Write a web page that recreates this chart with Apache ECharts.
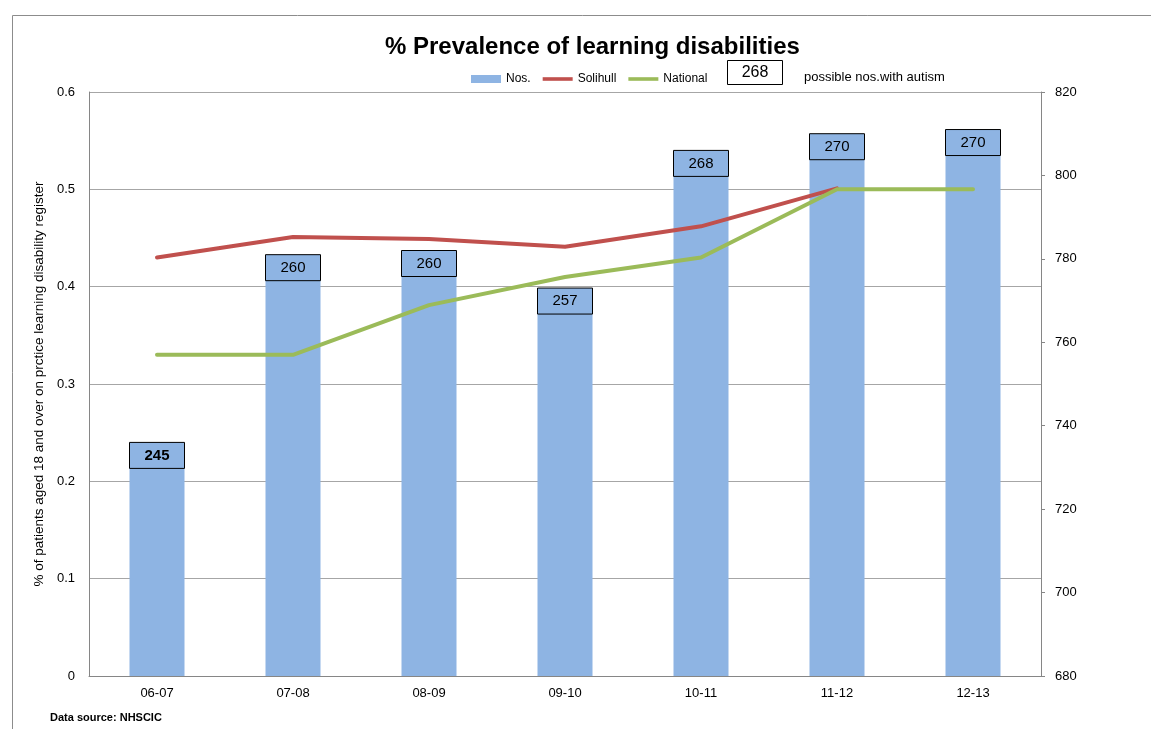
<!DOCTYPE html>
<html><head><meta charset="utf-8">
<script src="https://cdn.jsdelivr.net/npm/echarts@6/dist/echarts.min.js"></script>
<style>html,body{margin:0;padding:0;background:#fff}#c{width:1151px;height:729px}</style>
</head><body><div id="c"></div>
<script>
const categories = ['06-07','07-08','08-09','09-10','10-11','11-12','12-13'];
const nos = [736, 781, 782, 773, 806, 810, 811];
const autism = [245, 260, 260, 257, 268, 270, 270];
const solihull = [0.430, 0.451, 0.449, 0.441, 0.462, 0.501, null];
const national = [0.330, 0.330, 0.381, 0.410, 0.430, 0.500, 0.500];
const leftTicks = [0, 0.6, 0.1];
const rightTicks = [680, 820, 20];

const FONT = 'Liberation Sans, Arial, sans-serif';
const LINE_ICON = 'path://M0,0 L0,0 M30,8 L30,8 M0,2.2 L30,2.2 L30,5.8 L0,5.8 Z';
const chart = echarts.init(document.getElementById('c'));
const barData = nos.map((v, i) => ({
  value: v,
  label: { formatter: String(autism[i]), fontWeight: i === 0 ? 'bold' : 'normal' }
}));
chart.setOption({
  animation: false,
  textStyle: { fontFamily: FONT },
  title: {
    text: '% Prevalence of learning disabilities',
    left: 380, top: 30,
    textStyle: { fontSize: 24, fontWeight: 'bold', color: '#000', fontFamily: FONT }
  },
  legend: {
    left: 466, top: 68,
    itemWidth: 30, itemHeight: 8, itemGap: 12,
    symbolKeepAspect: false,
    textStyle: { fontSize: 12, color: '#000' },
    data: [
      { name: 'Nos.', icon: 'rect' },
      { name: 'Solihull', icon: LINE_ICON },
      { name: 'National', icon: LINE_ICON }
    ]
  },
  graphic: [
    { type: 'rect', shape: { x: 12.5, y: 15.5, width: 1200, height: 800 },
      style: { fill: 'none', stroke: '#8c8c8c', lineWidth: 1 }, silent: true },
    { type: 'rect', shape: { x: 727.5, y: 60.5, width: 55, height: 24 },
      style: { fill: '#fff', stroke: '#000', lineWidth: 1 } },
    { type: 'text', x: 755, y: 73,
      style: { text: '268', fill: '#000', font: '16px ' + FONT, align: 'center', verticalAlign: 'middle' } },
    { type: 'text', x: 804, y: 77,
      style: { text: 'possible nos.with autism', fill: '#000', font: '13px ' + FONT, align: 'left', verticalAlign: 'middle' } },
    { type: 'text', x: 50, y: 718,
      style: { text: 'Data source: NHSCIC', fill: '#000', font: 'bold 11px ' + FONT, align: 'left', verticalAlign: 'middle' } }
  ],
  grid: { left: 89, right: 110, top: 92, bottom: 53, containLabel: false },
  xAxis: {
    type: 'category', data: categories,
    axisLine: { lineStyle: { color: '#868686' } },
    axisTick: { show: false },
    axisLabel: { color: '#000', fontSize: 13, margin: 11 }
  },
  yAxis: [
    {
      type: 'value', min: leftTicks[0], max: leftTicks[1], interval: leftTicks[2],
      name: '% of patients aged 18 and over on prctice learning disability register',
      nameLocation: 'middle', nameGap: 35, nameRotate: 90,
      nameTextStyle: { fontSize: 13.5, color: '#000' },
      axisLine: { show: true, lineStyle: { color: '#868686' } },
      axisTick: { show: false },
      axisLabel: { color: '#000', fontSize: 13, margin: 14 },
      splitLine: { lineStyle: { color: '#a6a6a6', width: 1 } }
    },
    {
      type: 'value', min: rightTicks[0], max: rightTicks[1], interval: rightTicks[2],
      position: 'right',
      axisLine: { show: true, lineStyle: { color: '#868686' } },
      axisTick: { show: true, length: 4, lineStyle: { color: '#868686' } },
      axisLabel: { color: '#000', fontSize: 13, margin: 14 },
      splitLine: { show: false }
    }
  ],
  series: [
    {
      name: 'Nos.', type: 'bar', yAxisIndex: 1, data: barData,
      barWidth: 55,
      itemStyle: { color: '#8EB4E3' },
      label: {
        show: true, position: 'insideTop', distance: 0, offset: [0, 13],
        color: '#000', fontSize: 15,
        width: 55, height: 26, lineHeight: 26, align: 'center', verticalAlign: 'middle',
        borderColor: '#000', borderWidth: 1, padding: 0
      },
      z: 2
    },
    {
      name: 'Solihull', type: 'line', yAxisIndex: 0, data: solihull,
      symbol: 'none', connectNulls: false,
      lineStyle: { color: '#C0504D', width: 4, cap: 'round', join: 'round' },
      itemStyle: { color: '#C0504D' },
      z: 4
    },
    {
      name: 'National', type: 'line', yAxisIndex: 0, data: national,
      symbol: 'none',
      lineStyle: { color: '#9BBB59', width: 4, cap: 'round', join: 'round' },
      itemStyle: { color: '#9BBB59' },
      z: 5
    }
  ]
});
</script></body></html>
